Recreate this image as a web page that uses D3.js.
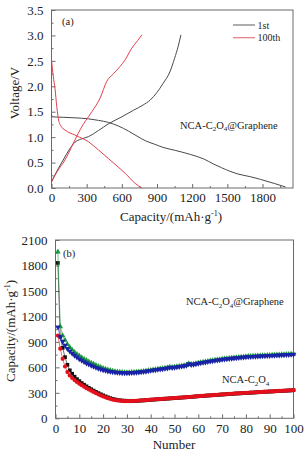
<!DOCTYPE html>
<html><head><meta charset="utf-8">
<script src="https://cdn.jsdelivr.net/npm/d3@7/dist/d3.min.js"></script>
<style>body{margin:0;background:#fff}svg{display:block}</style>
</head><body>
<svg id="c" width="308" height="457"></svg>
<script>
// ---------- Panel (a) data: [capacity mAh/g, voltage V] ----------
const firstDischarge = [[0,1.45],[5,1.40],[100,1.39],[200,1.38],[315,1.36],[400,1.33],[485,1.29],[570,1.22],[656,1.12],[730,1.02],[800,0.93],[880,0.86],[950,0.80],[1055,0.74],[1184,0.66],[1300,0.57],[1383,0.47],[1450,0.40],[1520,0.33],[1583,0.28],[1700,0.22],[1782,0.17],[1900,0.09],[1996,0.02]];
const firstCharge = [[0,0.12],[50,0.35],[100,0.55],[150,0.75],[200,0.90],[250,0.96],[315,1.01],[400,1.13],[485,1.26],[600,1.40],[700,1.53],[780,1.63],[842,1.73],[900,1.88],[950,2.05],[1013,2.30],[1050,2.55],[1080,2.78],[1104,3.01]];
const hundDischarge = [[0,2.52],[15,2.20],[30,1.95],[45,1.60],[58,1.37],[80,1.22],[115,1.14],[201,1.04],[315,0.91],[400,0.75],[485,0.58],[560,0.43],[628,0.29],[714,0.09],[771,0.0]];
const hundCharge = [[0,0.12],[50,0.33],[115,0.55],[170,0.80],[229,1.08],[270,1.25],[315,1.40],[344,1.50],[415,1.77],[472,2.10],[530,2.25],[585,2.39],[628,2.52],[685,2.75],[735,2.90],[771,3.01]];
const legendA = ["1st","100th"];
const xTicksA = [0,300,600,900,1200,1500,1800];
const yTicksA = [0.0,0.5,1.0,1.5,2.0,2.5,3.0,3.5];

// ---------- Panel (b) data: capacity per cycle 1..100 ----------
const ncaCharge = [1830,960,830,720,630,565,525,490,462,438,415,395,376,358,342,326,311,297,283,270,258,247,237,229,222,216,212,209,207,206,
 202,203,204,205,207,209,211,213,215,218,220,222,224,226,228,230,232,234,236,238,240,242,244,246,248,250,252,255,257,260,
 262,264,266,268,270,272,274,276,278,280,282,284,286,288,290,292,293,295,297,299,300,302,303,305,307,308,310,312,313,315,
 316,318,320,321,323,324,326,327,329,331];
const ncaDischarge = [975,820,700,610,545,505,475,450,428,408,390,372,355,340,325,310,296,283,270,258,247,237,228,221,215,210,207,205,203,203,
 203,204,205,206,208,210,212,214,216,219,221,223,225,227,229,231,233,235,237,239,241,243,245,247,249,251,253,256,258,261,
 263,265,267,269,271,273,275,277,279,281,283,285,287,289,291,293,294,296,298,300,301,303,304,306,308,309,311,313,314,316,
 317,319,321,322,324,325,327,328,330,332];
const grCharge = [1960,1080,975,920,870,835,805,778,755,735,715,698,682,667,652,638,625,612,600,590,580,572,565,558,552,548,545,542,540,539,
 540,541,543,545,548,551,554,558,562,567,571,575,579,583,587,591,595,604,601,605,609,613,617,622,627,644,635,639,645,651,
 657,662,667,672,676,681,685,689,693,697,701,704,707,710,713,716,719,721,723,727,729,731,732,734,735,737,738,740,741,743,
 744,746,747,749,750,752,753,755,756,757];
const grDischarge = [1075,960,905,860,820,790,765,740,720,700,682,665,650,636,622,610,598,588,578,570,563,556,551,546,542,539,537,535,534,534,
 535,536,538,540,543,546,549,553,557,562,566,570,574,578,582,586,590,600,596,600,604,608,612,617,622,640,630,634,640,646,
 652,657,662,667,671,676,680,684,688,692,696,699,702,705,708,711,714,716,718,722,724,726,727,729,730,732,733,735,736,738,
 739,741,742,744,745,747,748,750,751,752];
const xTicksB = [0,10,20,30,40,50,60,70,80,90,100];
const yTicksB = [0,300,600,900,1200,1500,1800,2100];

const svg = d3.select("#c");
const FONT = "'Liberation Serif','Times New Roman',serif";
const FRAME = "#6a6a6a";

function frame(x, y, xMajor, xMinor, yMajor, yMinor, xFmt, yFmt){
  const g = svg.append("g");
  const [x0,x1] = x.range(), [y0,y1] = y.range();
  g.append("rect").attr("x",x0).attr("y",y1).attr("width",x1-x0).attr("height",y0-y1)
    .attr("fill","none").attr("stroke",FRAME).attr("stroke-width",1);
  const bx = d3.axisBottom(x).tickValues(xMajor).tickSize(-4).tickPadding(5).tickFormat(xFmt);
  const bxm = d3.axisBottom(x).tickValues(xMinor).tickSize(-2).tickFormat("");
  const ly = d3.axisLeft(y).tickValues(yMajor).tickSize(-4).tickPadding(8).tickFormat(yFmt);
  const lym = d3.axisLeft(y).tickValues(yMinor).tickSize(-2).tickFormat("");
  [[bx,`translate(0,${y0})`],[bxm,`translate(0,${y0})`],[ly,`translate(${x0},0)`],[lym,`translate(${x0},0)`]].forEach(([a,t])=>{
    const ag = g.append("g").attr("transform",t).call(a);
    ag.select(".domain").remove();
    ag.selectAll("line").attr("stroke",FRAME);
    ag.selectAll("text").attr("font-family",FONT).attr("font-size",13).attr("fill","#222");
  });
  return g;
}

// ---------- Panel (a) ----------
const xa = d3.scaleLinear().domain([0,2060]).range([51.5,293]);
const ya = d3.scaleLinear().domain([0,3.5]).range([188,10]);
frame(xa, ya, xTicksA, d3.range(150,2060,300), yTicksA, d3.range(0.25,3.5,0.5), d3.format("d"), d3.format(".1f"));
const lineA = d3.line().x(d=>xa(d[0])).y(d=>ya(d[1])).curve(d3.curveMonotoneX);
const GRAY = "#4a4a4a", PINK = "#e0404c";
[[firstDischarge,GRAY],[firstCharge,GRAY],[hundDischarge,PINK],[hundCharge,PINK]].forEach(([d,c])=>{
  svg.append("path").attr("d",lineA(d)).attr("fill","none").attr("stroke",c).attr("stroke-width",1);
});
// legend
legendA.forEach((t,i)=>{
  const yy = 25 + i*12.7;
  svg.append("line").attr("x1",233).attr("x2",255).attr("y1",yy).attr("y2",yy)
    .attr("stroke", i===0 ? "#777" : "#e77680").attr("stroke-width",1.2);
  svg.append("text").attr("x",257.5).attr("y",yy+3.5).text(t)
    .attr("font-family",FONT).attr("font-size",10).attr("fill","#222");
});
svg.append("text").attr("x",62).attr("y",24.5).text("(a)").attr("font-family",FONT).attr("font-size",10.5).attr("fill","#222");

function chem(x,y,parts){
  const t = svg.append("text").attr("x",x).attr("y",y).attr("font-family",FONT).attr("font-size",10.5).attr("fill","#222");
  parts.forEach(([s,sub])=>{
    const ts = t.append("tspan").text(s);
    if(sub){ ts.attr("font-size",7).attr("dy",2.5); }
    else { ts.attr("dy", t.attr("_sub")==="1" ? -2.5 : 0); }
    t.attr("_sub", sub ? "1" : "0");
  });
  return t;
}
chem(180,128.5,[["NCA-C",0],["2",1],["O",0],["4",1],["@Graphene",0]]);

// axis titles a
const xt = svg.append("text").attr("x",171).attr("y",220.5).attr("text-anchor","middle")
  .attr("font-family",FONT).attr("font-size",13).attr("fill","#222");
xt.append("tspan").text("Capacity/(mAh·g");
xt.append("tspan").text("-1").attr("font-size",8).attr("dy",-5);
xt.append("tspan").text(")").attr("font-size",13).attr("dy",5);
svg.append("text").attr("transform","translate(19,93) rotate(-90)").attr("text-anchor","middle")
  .attr("font-family",FONT).attr("font-size",13).attr("fill","#222").text("Voltage/V");

// ---------- Panel (b) ----------
const xb = d3.scaleLinear().domain([0,100]).range([55.5,293.5]);
const yb = d3.scaleLinear().domain([0,2100]).range([418.3,240]);
frame(xb, yb, xTicksB, d3.range(5,100,10), yTicksB, d3.range(150,2100,300), d3.format("d"), d3.format("d"));
const cycles = d3.range(1,101);
const series = [
  {v:ncaCharge, c:"#111111", s:d3.symbolSquare, size:14, rot:0},
  {v:ncaDischarge, c:"#e4101c", s:d3.symbolCircle, size:14, rot:0},
  {v:grCharge, c:"#1b9a3c", s:d3.symbolTriangle, size:14, rot:0},
  {v:grDischarge, c:"#1a22a8", s:d3.symbolTriangle, size:14, rot:180},
];
const lineB = d3.line().x((d,i)=>xb(cycles[i])).y(d=>yb(d));
series.forEach(s=>{
  svg.append("path").attr("d",lineB(s.v)).attr("fill","none").attr("stroke",s.c).attr("stroke-width",0.6);
  svg.append("g").selectAll("path").data(s.v).join("path")
    .attr("d",d3.symbol().type(s.s).size(s.size))
    .attr("transform",(d,i)=>`translate(${xb(cycles[i])},${yb(d)}) rotate(${s.rot})`)
    .attr("fill",s.c);
});
svg.append("text").attr("x",63).attr("y",257).text("(b)").attr("font-family",FONT).attr("font-size",10.5).attr("fill","#222");
chem(186,305,[["NCA-C",0],["2",1],["O",0],["4",1],["@Graphene",0]]);
chem(222,383,[["NCA-C",0],["2",1],["O",0],["4",1]]);

svg.append("text").attr("x",174).attr("y",449).attr("text-anchor","middle")
  .attr("font-family",FONT).attr("font-size",13).attr("fill","#222").text("Number");
const yt = svg.append("text").attr("transform","translate(15,331) rotate(-90)").attr("text-anchor","middle")
  .attr("font-family",FONT).attr("font-size",13).attr("fill","#222");
yt.append("tspan").text("Capacity/(mAh·g");
yt.append("tspan").text("-1").attr("font-size",8).attr("dy",-5);
yt.append("tspan").text(")").attr("font-size",13).attr("dy",5);
</script>
</body></html>
